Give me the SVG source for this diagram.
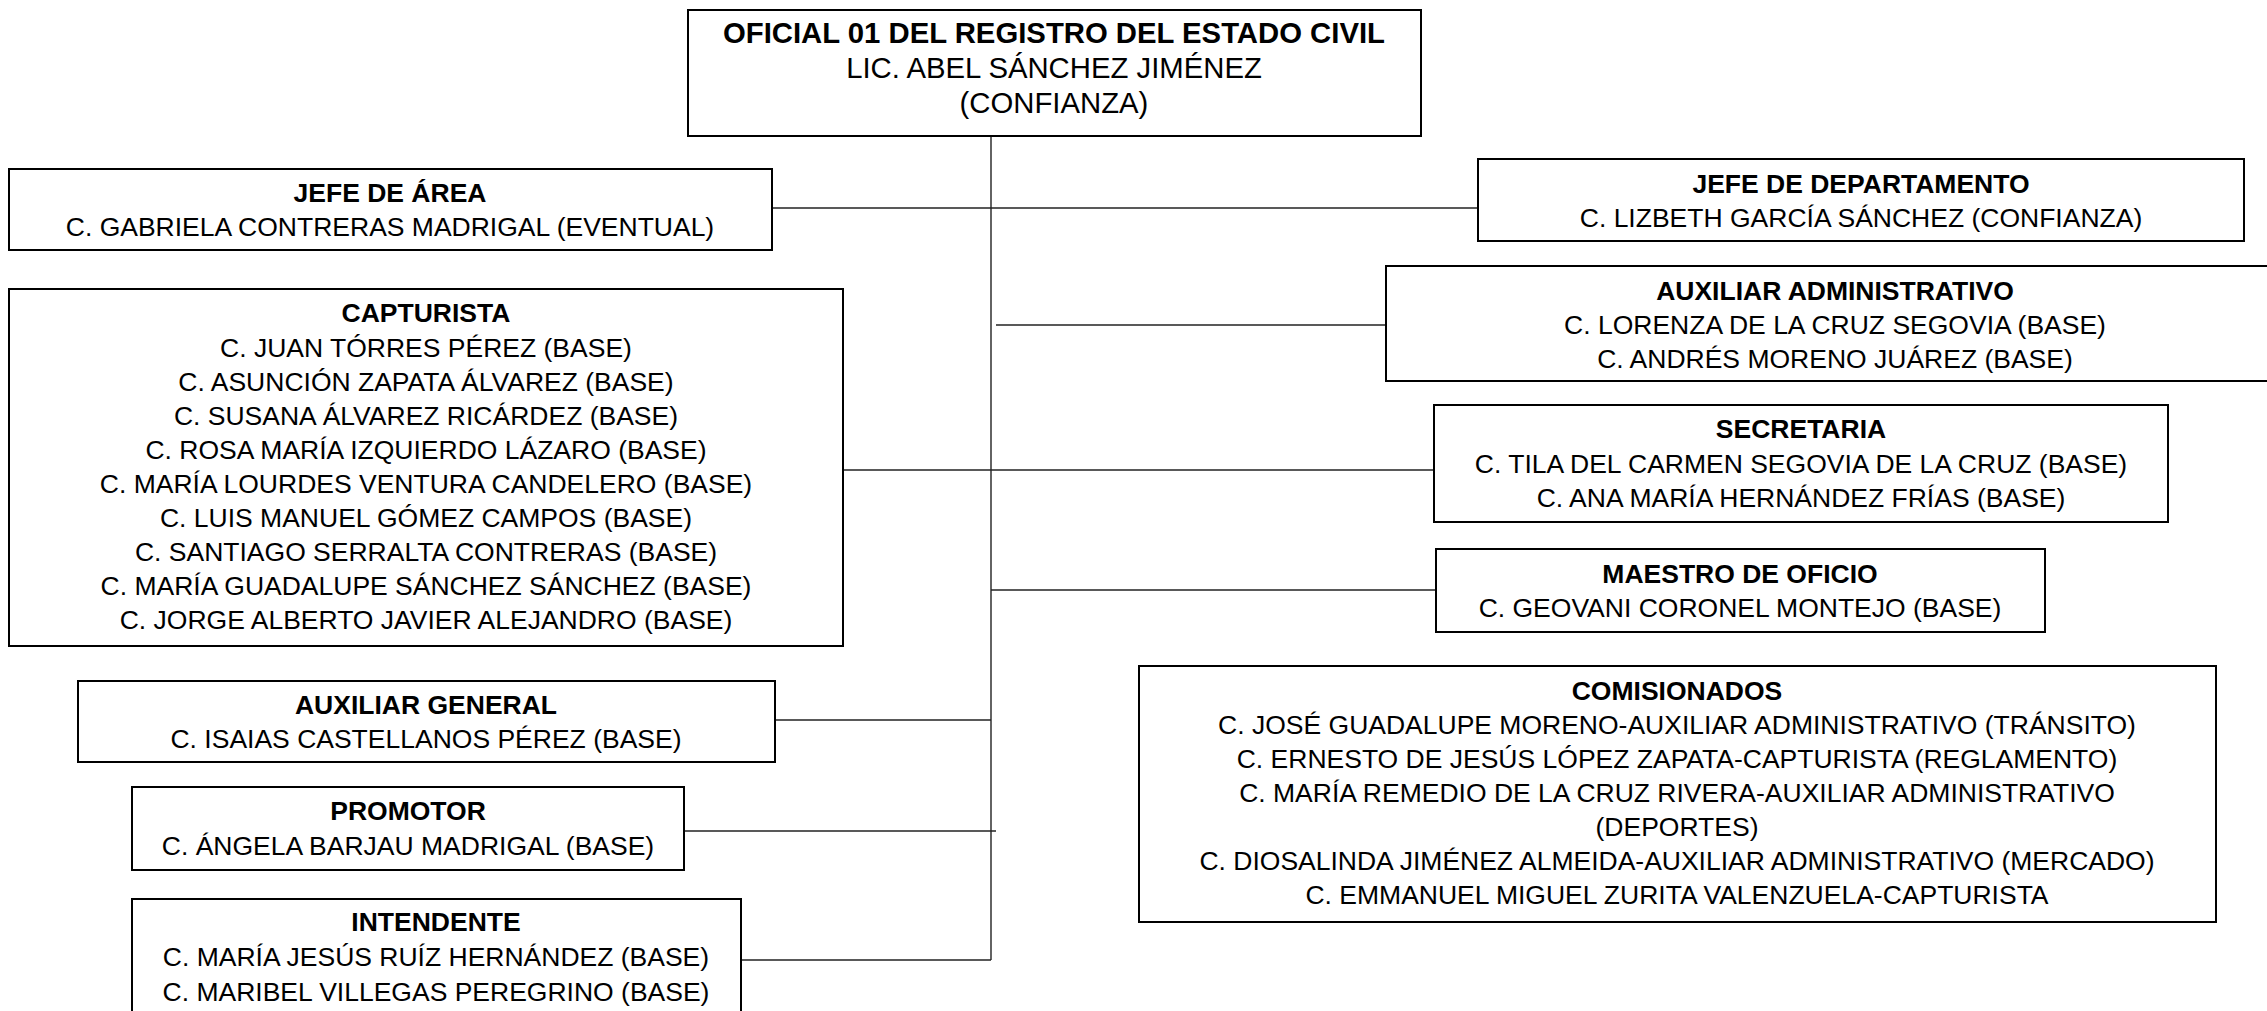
<svg xmlns="http://www.w3.org/2000/svg" width="2267" height="1011" viewBox="0 0 2267 1011">
<style>
.box{fill:#fff;stroke:#000;stroke-width:2}
.t{font-family:"Liberation Sans",Arial,sans-serif;font-size:26.5px;fill:#000;text-anchor:middle}
.b{font-weight:bold}
.top{font-size:29.3px}
.c{stroke:#222;stroke-width:1.4;fill:none}
</style>
<rect width="2267" height="1011" fill="#fff"/>
<g id="connectors">
<line class="c" x1="991" y1="136" x2="991" y2="960"/>
<line class="c" x1="772" y1="208" x2="1478" y2="208"/>
<line class="c" x1="996" y1="325" x2="1386" y2="325"/>
<line class="c" x1="843" y1="470" x2="1434" y2="470"/>
<line class="c" x1="991" y1="590" x2="1436" y2="590"/>
<line class="c" x1="775" y1="720" x2="991" y2="720"/>
<line class="c" x1="684" y1="831" x2="996" y2="831"/>
<line class="c" x1="741" y1="960" x2="991" y2="960"/>
</g>
<g id="oficial">
<rect class="box" x="688" y="10" width="733" height="126"/>
<text class="t top b" x="1054" y="43">OFICIAL 01 DEL REGISTRO DEL ESTADO CIVIL</text>
<text class="t top" x="1054" y="78">LIC. ABEL SÁNCHEZ JIMÉNEZ</text>
<text class="t top" x="1054" y="113">(CONFIANZA)</text>
</g>
<g id="jefe-area">
<rect class="box" x="9" y="169" width="763" height="81"/>
<text class="t b" x="390" y="202">JEFE DE ÁREA</text>
<text class="t" x="390" y="236">C. GABRIELA CONTRERAS MADRIGAL (EVENTUAL)</text>
</g>
<g id="jefe-departamento">
<rect class="box" x="1478" y="159" width="766" height="82"/>
<text class="t b" x="1861" y="193">JEFE DE DEPARTAMENTO</text>
<text class="t" x="1861" y="227">C. LIZBETH GARCÍA SÁNCHEZ (CONFIANZA)</text>
</g>
<g id="auxiliar-administrativo">
<rect class="box" x="1386" y="266" width="900" height="115"/>
<text class="t b" x="1835" y="300">AUXILIAR ADMINISTRATIVO</text>
<text class="t" x="1835" y="334">C. LORENZA DE LA CRUZ SEGOVIA (BASE)</text>
<text class="t" x="1835" y="368">C. ANDRÉS MORENO JUÁREZ (BASE)</text>
</g>
<g id="capturista">
<rect class="box" x="9" y="289" width="834" height="357"/>
<text class="t b" x="426" y="322">CAPTURISTA</text>
<text class="t" x="426" y="357">C. JUAN TÓRRES PÉREZ (BASE)</text>
<text class="t" x="426" y="391">C. ASUNCIÓN ZAPATA ÁLVAREZ (BASE)</text>
<text class="t" x="426" y="425">C. SUSANA ÁLVAREZ RICÁRDEZ (BASE)</text>
<text class="t" x="426" y="459">C. ROSA MARÍA IZQUIERDO LÁZARO (BASE)</text>
<text class="t" x="426" y="493">C. MARÍA LOURDES VENTURA CANDELERO (BASE)</text>
<text class="t" x="426" y="527">C. LUIS MANUEL GÓMEZ CAMPOS (BASE)</text>
<text class="t" x="426" y="561">C. SANTIAGO SERRALTA CONTRERAS (BASE)</text>
<text class="t" x="426" y="595">C. MARÍA GUADALUPE SÁNCHEZ SÁNCHEZ (BASE)</text>
<text class="t" x="426" y="629">C. JORGE ALBERTO JAVIER ALEJANDRO (BASE)</text>
</g>
<g id="secretaria">
<rect class="box" x="1434" y="405" width="734" height="117"/>
<text class="t b" x="1801" y="438">SECRETARIA</text>
<text class="t" x="1801" y="473">C. TILA DEL CARMEN SEGOVIA DE LA CRUZ (BASE)</text>
<text class="t" x="1801" y="507">C. ANA MARÍA HERNÁNDEZ FRÍAS (BASE)</text>
</g>
<g id="maestro-oficio">
<rect class="box" x="1436" y="549" width="609" height="83"/>
<text class="t b" x="1740" y="583">MAESTRO DE OFICIO</text>
<text class="t" x="1740" y="617">C. GEOVANI CORONEL MONTEJO (BASE)</text>
</g>
<g id="comisionados">
<rect class="box" x="1139" y="666" width="1077" height="256"/>
<text class="t b" x="1677" y="700">COMISIONADOS</text>
<text class="t" x="1677" y="734">C. JOSÉ GUADALUPE MORENO-AUXILIAR ADMINISTRATIVO (TRÁNSITO)</text>
<text class="t" x="1677" y="768">C. ERNESTO DE JESÚS LÓPEZ ZAPATA-CAPTURISTA (REGLAMENTO)</text>
<text class="t" x="1677" y="802">C. MARÍA REMEDIO DE LA CRUZ RIVERA-AUXILIAR ADMINISTRATIVO</text>
<text class="t" x="1677" y="836">(DEPORTES)</text>
<text class="t" x="1677" y="870">C. DIOSALINDA JIMÉNEZ ALMEIDA-AUXILIAR ADMINISTRATIVO (MERCADO)</text>
<text class="t" x="1677" y="904">C. EMMANUEL MIGUEL ZURITA VALENZUELA-CAPTURISTA</text>
</g>
<g id="auxiliar-general">
<rect class="box" x="78" y="681" width="697" height="81"/>
<text class="t b" x="426" y="714">AUXILIAR GENERAL</text>
<text class="t" x="426" y="748">C. ISAIAS CASTELLANOS PÉREZ (BASE)</text>
</g>
<g id="promotor">
<rect class="box" x="132" y="787" width="552" height="83"/>
<text class="t b" x="408" y="820">PROMOTOR</text>
<text class="t" x="408" y="855">C. ÁNGELA BARJAU MADRIGAL (BASE)</text>
</g>
<g id="intendente">
<rect class="box" x="132" y="899" width="609" height="140"/>
<text class="t b" x="436" y="931">INTENDENTE</text>
<text class="t" x="436" y="966">C. MARÍA JESÚS RUÍZ HERNÁNDEZ (BASE)</text>
<text class="t" x="436" y="1001">C. MARIBEL VILLEGAS PEREGRINO (BASE)</text>
</g>
</svg>
